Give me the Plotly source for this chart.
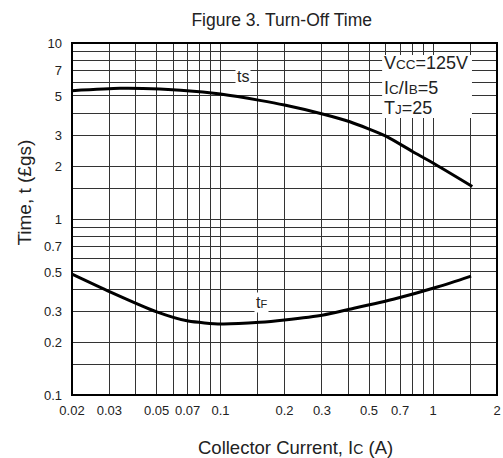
import math
import plotly.graph_objects as go

# Data
ic_ts = [0.02, 0.0336, 0.0518, 0.0825, 0.1, 0.153, 0.2, 0.305, 0.406, 0.6, 0.8, 1.0, 1.53]
ts = [5.36, 5.53, 5.48, 5.27, 5.13, 4.72, 4.44, 3.94, 3.57, 2.96, 2.42, 2.08, 1.53]

ic_tf = [0.02, 0.0302, 0.0501, 0.0705, 0.1006, 0.153, 0.2, 0.305, 0.404, 0.65, 1.057, 1.51]
tf = [0.487, 0.386, 0.297, 0.263, 0.2535, 0.259, 0.267, 0.285, 0.307, 0.35, 0.412, 0.474]

x_grid = [0.02, 0.03, 0.04, 0.05, 0.06, 0.07, 0.08, 0.09, 0.1, 0.15, 0.2, 0.3, 0.4, 0.5,
          0.6, 0.7, 0.8, 0.9, 1, 1.5, 2]
x_labels = {0.02: "0.02", 0.03: "0.03", 0.05: "0.05", 0.07: "0.07", 0.1: "0.1", 0.2: "0.2",
            0.3: "0.3", 0.5: "0.5", 0.7: "0.7", 1: "1", 2: "2"}
y_grid = [0.1, 0.15, 0.2, 0.3, 0.4, 0.5, 0.6, 0.7, 0.8, 0.9, 1, 1.5, 2, 3, 4, 5, 6, 7, 8, 9, 10]
y_labels = {0.1: "0.1", 0.2: "0.2", 0.3: "0.3", 0.5: "0.5", 0.7: "0.7", 1: "1", 2: "2",
            3: "3", 5: "5", 7: "7", 10: "10"}

FONT = "Liberation Sans, Arial, sans-serif"
TXT = "#222"
L = math.log10

fig = go.Figure()
fig.add_trace(go.Scatter(x=ic_ts, y=ts, mode="lines",
                         line=dict(color="black", width=3, shape="spline", smoothing=0.6),
                         showlegend=False, hoverinfo="skip"))
fig.add_trace(go.Scatter(x=ic_tf, y=tf, mode="lines",
                         line=dict(color="black", width=3, shape="spline", smoothing=0.6),
                         showlegend=False, hoverinfo="skip"))

small = "<span style='font-size:13.5px'>{}</span>"

fig.update_layout(
    width=503, height=458,
    margin=dict(l=72, r=6, t=43, b=63),
    paper_bgcolor="white", plot_bgcolor="white",
    font=dict(family=FONT, color=TXT, size=13),
    hovermode=False,
    title=dict(text="Figure 3. Turn-Off Time", x=0.56, xanchor="center",
               xref="container", yref="container", y=0.957, yanchor="middle",
               font=dict(size=17.5, family=FONT, color=TXT)),
    xaxis=dict(type="log", range=[L(0.02), L(2)], automargin=False,
               tickvals=x_grid, ticktext=[x_labels.get(v, "") for v in x_grid],
               tickfont=dict(size=13), showgrid=True, gridcolor="#333", gridwidth=1,
               ticks="", ticklabelstandoff=6, zeroline=False, showline=False),
    yaxis=dict(type="log", range=[-1, 1], automargin=False,
               tickvals=y_grid, ticktext=[y_labels.get(v, "") for v in y_grid],
               tickfont=dict(size=13), showgrid=True, gridcolor="#333", gridwidth=1,
               ticks="", ticklabelstandoff=9, zeroline=False, showline=False),
    shapes=[
        dict(type="rect", xref="x", yref="y", x0=0.576, x1=1.525, y0=3.75, y1=8.55,
             fillcolor="white", line=dict(width=0), layer="between"),
        dict(type="rect", xref="paper", yref="paper", x0=0, x1=1, y0=0, y1=1,
             line=dict(color="black", width=2), fillcolor="rgba(0,0,0,0)", layer="above"),
    ],
    annotations=[
        dict(x=L(0.576), y=0.889, xref="x", yref="y", xanchor="left", yanchor="middle", showarrow=False,
             text="V" + small.format("CC") + "=125V", font=dict(size=18, family=FONT, color=TXT)),
        dict(x=L(0.576), y=0.744, xref="x", yref="y", xanchor="left", yanchor="middle", showarrow=False,
             text="I" + small.format("C") + "/I" + small.format("B") + "=5",
             font=dict(size=18, family=FONT, color=TXT)),
        dict(x=L(0.576), y=0.631, xref="x", yref="y", xanchor="left", yanchor="middle", showarrow=False,
             text="T" + small.format("J") + "=25", font=dict(size=18, family=FONT, color=TXT)),
        dict(x=-0.894, y=0.807, xref="x", yref="y", xanchor="center", yanchor="middle", showarrow=False,
             text="ts", bgcolor="white", borderpad=1, font=dict(size=16, family=FONT, color=TXT)),
        dict(x=-0.805, y=-0.477, xref="x", yref="y", xanchor="center", yanchor="middle", showarrow=False,
             text="t<span style='font-size:11px'>F</span>", bgcolor="white", borderpad=1,
             font=dict(size=16, family=FONT, color=TXT)),
        dict(x=0.525, y=-0.148, xref="paper", yref="paper", xanchor="center", yanchor="middle",
             showarrow=False, text="Collector Current, I<span style='font-size:14px'>C</span> (A)",
             font=dict(size=18.5, family=FONT, color=TXT)),
        dict(x=-0.1106, y=0.575, xref="paper", yref="paper", xanchor="center", yanchor="middle",
             showarrow=False, textangle=-90, text="Time, t (£gs)",
             font=dict(size=19, family=FONT, color=TXT)),
    ],
)

fig.write_html("out.html", config={"displayModeBar": False},
               post_script="document.body.style.margin='0';")
